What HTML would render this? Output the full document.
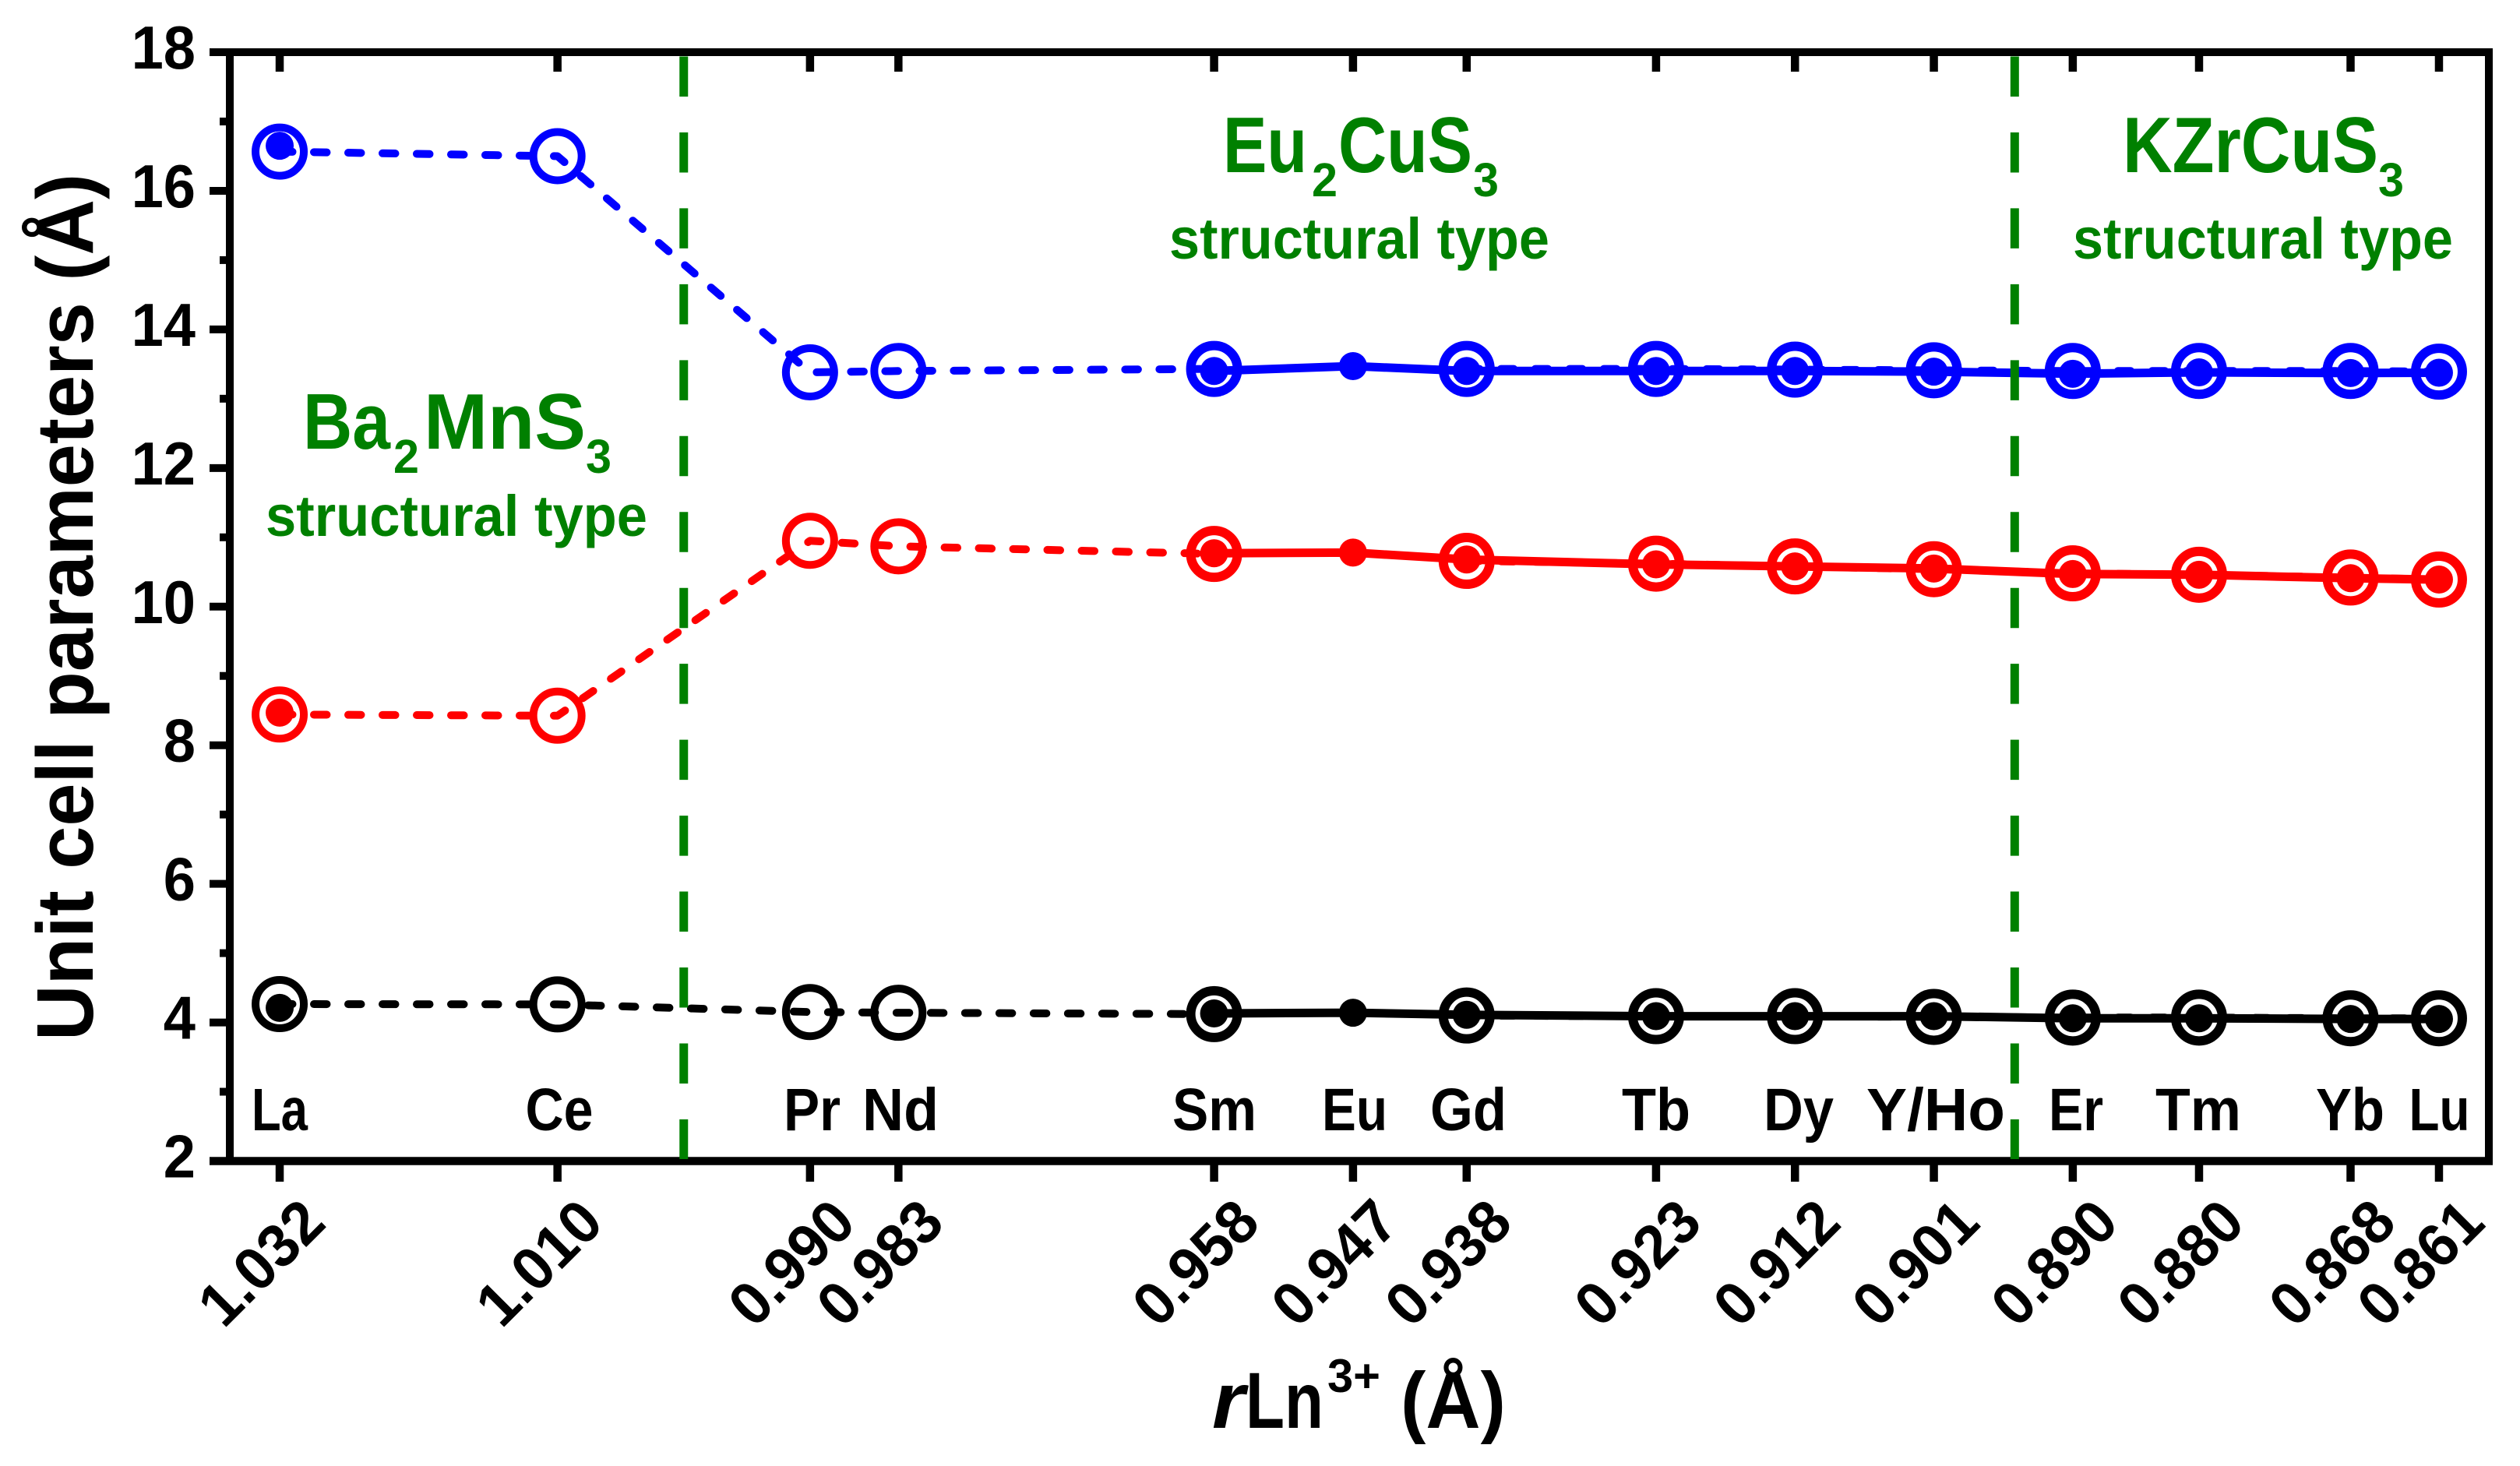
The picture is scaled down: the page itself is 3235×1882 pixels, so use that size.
<!DOCTYPE html>
<html lang="en">
<head>
<meta charset="utf-8">
<title>Unit cell parameters vs rLn3+</title>
<style>
html,body{margin:0;padding:0;background:#fff;}
svg{display:block;}
text{font-family:"Liberation Sans",sans-serif;font-weight:bold;}
.el{font-size:77px;fill:#000;text-anchor:middle;}
.gm{font-size:101px;fill:#008000;}
.gs{font-size:61px;fill:#008000;}
.gt{font-size:74px;fill:#008000;}
</style>
</head>
<body>
<svg id="chart" xmlns="http://www.w3.org/2000/svg" width="3235" height="1882" viewBox="0 0 3235 1882">
  <rect x="0" y="0" width="3235" height="1882" fill="#fff"/>
  <g id="series-layer"></g>
  <g id="axis-layer"></g>

  <g>
    <text class="el" x="359" y="1451" textLength="72" lengthAdjust="spacingAndGlyphs">La</text>
    <text class="el" x="718" y="1451" textLength="87" lengthAdjust="spacingAndGlyphs">Ce</text>
    <text class="el" x="1042.5" y="1451" textLength="73" lengthAdjust="spacingAndGlyphs">Pr</text>
    <text class="el" x="1156" y="1451" textLength="98" lengthAdjust="spacingAndGlyphs">Nd</text>
    <text class="el" x="1559" y="1451" textLength="108" lengthAdjust="spacingAndGlyphs">Sm</text>
    <text class="el" x="1739" y="1451" textLength="84" lengthAdjust="spacingAndGlyphs">Eu</text>
    <text class="el" x="1885" y="1451" textLength="98" lengthAdjust="spacingAndGlyphs">Gd</text>
    <text class="el" x="2126" y="1451" textLength="88" lengthAdjust="spacingAndGlyphs">Tb</text>
    <text class="el" x="2309" y="1451" textLength="90" lengthAdjust="spacingAndGlyphs">Dy</text>
    <text class="el" x="2485" y="1451" textLength="178" lengthAdjust="spacingAndGlyphs">Y/Ho</text>
    <text class="el" x="2665" y="1451" textLength="70" lengthAdjust="spacingAndGlyphs">Er</text>
    <text class="el" x="2822" y="1451" textLength="110" lengthAdjust="spacingAndGlyphs">Tm</text>
    <text class="el" x="3017" y="1451" textLength="88" lengthAdjust="spacingAndGlyphs">Yb</text>
    <text class="el" x="3131.5" y="1451" textLength="78" lengthAdjust="spacingAndGlyphs">Lu</text>
  </g>

  <g>
    <g>
      <text class="gm" x="389" y="576" textLength="112" lengthAdjust="spacingAndGlyphs">Ba</text>
      <text class="gs" x="505" y="607" textLength="33" lengthAdjust="spacingAndGlyphs">2</text>
      <text class="gm" x="544" y="576" textLength="208" lengthAdjust="spacingAndGlyphs">MnS</text>
      <text class="gs" x="752" y="607" textLength="33" lengthAdjust="spacingAndGlyphs">3</text>
      <text class="gt" x="341" y="688" textLength="490" lengthAdjust="spacingAndGlyphs">structural type</text>
    </g>
    <g>
      <text class="gm" x="1570" y="221" textLength="108" lengthAdjust="spacingAndGlyphs">Eu</text>
      <text class="gs" x="1684" y="252" textLength="33" lengthAdjust="spacingAndGlyphs">2</text>
      <text class="gm" x="1718" y="221" textLength="172" lengthAdjust="spacingAndGlyphs">CuS</text>
      <text class="gs" x="1891" y="252" textLength="33" lengthAdjust="spacingAndGlyphs">3</text>
      <text class="gt" x="1501" y="332" textLength="488" lengthAdjust="spacingAndGlyphs">structural type</text>
    </g>
    <g>
      <text class="gm" x="2725" y="221" textLength="328" lengthAdjust="spacingAndGlyphs">KZrCuS</text>
      <text class="gs" x="3053" y="252" textLength="33" lengthAdjust="spacingAndGlyphs">3</text>
      <text class="gt" x="2661" y="332" textLength="488" lengthAdjust="spacingAndGlyphs">structural type</text>
    </g>
  </g>

  <text transform="translate(119,1336) rotate(-90)" x="0" y="0" font-size="103" textLength="1113" lengthAdjust="spacingAndGlyphs" fill="#000">Unit cell parameters (Å)</text>

  <g fill="#000">
    <text x="1556" y="1833" font-size="102" font-style="italic" textLength="42" lengthAdjust="spacingAndGlyphs">r</text>
    <text x="1599" y="1833" font-size="102" textLength="100" lengthAdjust="spacingAndGlyphs">Ln</text>
    <text x="1704" y="1787" font-size="60" textLength="68" lengthAdjust="spacingAndGlyphs">3+</text>
    <text x="1798" y="1833" font-size="102" textLength="135" lengthAdjust="spacingAndGlyphs">(Å)</text>
  </g>

  <g id="divider-layer"></g>
</svg>

<script>
// ----- chart data -----
const radii = [1.032, 1.010, 0.990, 0.983, 0.958, 0.947, 0.938, 0.923, 0.912, 0.901, 0.890, 0.880, 0.868, 0.861];
const radiusLabels = ['1.032','1.010','0.990','0.983','0.958','0.947','0.938','0.923','0.912','0.901','0.890','0.880','0.868','0.861'];
const yTicks = [2, 4, 6, 8, 10, 12, 14, 16, 18];
const yMinorTicks = [3, 5, 7, 9, 11, 13, 15, 17];
const dividers = [1.000, 0.8946];

// open-ring series (dashed), one value per radius, null where not measured
const aOpen = [4.265, 4.26, 4.15, 4.14, 4.12, null, 4.10, 4.09, 4.09, 4.08, 4.07, 4.07, 4.06, 4.06];
const bOpen = [8.443, 8.426, 10.95, 10.87, 10.76, null, 10.66, 10.62, 10.58, 10.54, 10.48, 10.46, 10.42, 10.39];
const cOpen = [16.566, 16.50, 13.38, 13.40, 13.43, null, 13.43, 13.43, 13.42, 13.41, 13.40, 13.40, 13.40, 13.39];

// filled-dot series (solid)
const aFilled = [4.21, null, null, null, 4.13, 4.14, 4.11, 4.09, 4.09, 4.09, 4.06, 4.06, 4.05, 4.05];
const bFilled = [8.47, null, null, null, 10.77, 10.78, 10.68, 10.61, 10.58, 10.55, 10.47, 10.46, 10.41, 10.39];
const cFilled = [16.65, null, null, null, 13.40, 13.47, 13.40, 13.40, 13.40, 13.39, 13.36, 13.38, 13.37, 13.375];

// ----- axis functions -----
const PLOT_LEFT = 295, PLOT_RIGHT = 3195, PLOT_TOP = 67, PLOT_BOTTOM = 1490.5;
const X_DOMAIN_LEFT = 1.03595, X_DOMAIN_RIGHT = 0.85705;
const Y_MIN = 2, Y_MAX = 18;
function xScale(r) {
  return PLOT_LEFT + (X_DOMAIN_LEFT - r) / (X_DOMAIN_LEFT - X_DOMAIN_RIGHT) * (PLOT_RIGHT - PLOT_LEFT);
}
function yScale(v) {
  return PLOT_BOTTOM - (v - Y_MIN) / (Y_MAX - Y_MIN) * (PLOT_BOTTOM - PLOT_TOP);
}

const NS = 'http://www.w3.org/2000/svg';
function make(tag, parent, props) {
  const el = document.createElementNS(NS, tag);
  for (const k in props) el.setAttribute(k, props[k]);
  parent.appendChild(el);
  return el;
}

// ----- axes -----
const axisLayer = document.getElementById('axis-layer');
yTicks.forEach(function (v) {
  const t = make('line', axisLayer, {x1: 269, x2: 295, y1: yScale(v), y2: yScale(v), stroke: '#000', 'stroke-width': 10});
  
  
  const l = make('text', axisLayer, {transform: 'translate(251,' + (yScale(v) + 21) + ') scale(0.95,1)', 'font-size': 78, 'text-anchor': 'end', fill: '#000'});
  l.textContent = String(v);
  
  
});
yMinorTicks.forEach(function (v) {
  const t = make('line', axisLayer, {x1: 282, x2: 295, y1: yScale(v), y2: yScale(v), stroke: '#000', 'stroke-width': 10});
  
  
});
radii.forEach(function (r, i) {
  const x = xScale(r);
  const bottom = make('line', axisLayer, {x1: x, x2: x, y1: PLOT_BOTTOM, y2: 1517, stroke: '#000', 'stroke-width': 10.5});
  
  
  const top = make('line', axisLayer, {x1: x, x2: x, y1: PLOT_TOP, y2: 92, stroke: '#000', 'stroke-width': 10.5});
  
  
  const l = make('text', axisLayer, {transform: 'translate(' + (x - 5) + ',1640) rotate(-45) scale(0.97,1)', 'font-size': 78, 'text-anchor': 'middle', fill: '#000'});
  l.textContent = radiusLabels[i];
  
  
});
const spineLeft = make('line', axisLayer, {x1: PLOT_LEFT, x2: PLOT_LEFT, y1: PLOT_TOP - 5, y2: PLOT_BOTTOM + 5, stroke: '#000', 'stroke-width': 10});


const spineRight = make('line', axisLayer, {x1: PLOT_RIGHT, x2: PLOT_RIGHT, y1: PLOT_TOP - 5, y2: PLOT_BOTTOM + 5, stroke: '#000', 'stroke-width': 10});


const spineTop = make('line', axisLayer, {x1: 269, x2: PLOT_RIGHT + 5, y1: PLOT_TOP, y2: PLOT_TOP, stroke: '#000', 'stroke-width': 10});


const spineBottom = make('line', axisLayer, {x1: 269, x2: PLOT_RIGHT + 5, y1: PLOT_BOTTOM, y2: PLOT_BOTTOM, stroke: '#000', 'stroke-width': 10.5});



// ----- series -----
const seriesLayer = document.getElementById('series-layer');
function pathFor(values) {
  let d = '', pen = false;
  values.forEach(function (v, i) {
    if (v === null) { pen = false; return; }
    d += (pen ? 'L' : 'M') + xScale(radii[i]).toFixed(1) + ' ' + yScale(v).toFixed(1);
    pen = true;
  });
  return d;
}
function drawSeries(openValues, filledValues, color, label) {
  const g = make('g', seriesLayer, {});
  
  

  const dashed = make('path', g, {d: pathFor(openValues), fill: 'none', stroke: color, 'stroke-width': 10, 'stroke-dasharray': '16.5 27.5', 'stroke-linecap': 'round', 'stroke-linejoin': 'round'});
  
  

  const solid = make('path', g, {d: pathFor(filledValues), fill: 'none', stroke: color, 'stroke-width': 11, 'stroke-linejoin': 'round'});
  
  

  openValues.forEach(function (v, i) {
    if (v === null) return;
    const thick = i > 0 && filledValues[i] !== null;
    const c = make('circle', g, {cx: xScale(radii[i]), cy: yScale(v), r: thick ? 30 : 31, fill: 'none', stroke: color, 'stroke-width': thick ? 12 : 10});
    
    
  });
  filledValues.forEach(function (v, i) {
    if (v === null) return;
    const c = make('circle', g, {cx: xScale(radii[i]), cy: yScale(v), r: 18, fill: color});
    
    
  });
}
drawSeries(aOpen, aFilled, '#000000', 'a');
drawSeries(bOpen, bFilled, '#ff0000', 'b');
drawSeries(cOpen, cFilled, '#0000ff', 'c');

// ----- structure-type dividers -----
const dividerLayer = document.getElementById('divider-layer');
dividers.forEach(function (r) {
  const x = xScale(r);
  const d = make('line', dividerLayer, {x1: x, x2: x, y1: 72.5, y2: 1488, stroke: '#008000', 'stroke-width': 11, 'stroke-dasharray': '51.5 45.96'});
  
  
});
</script>
</body>
</html>
